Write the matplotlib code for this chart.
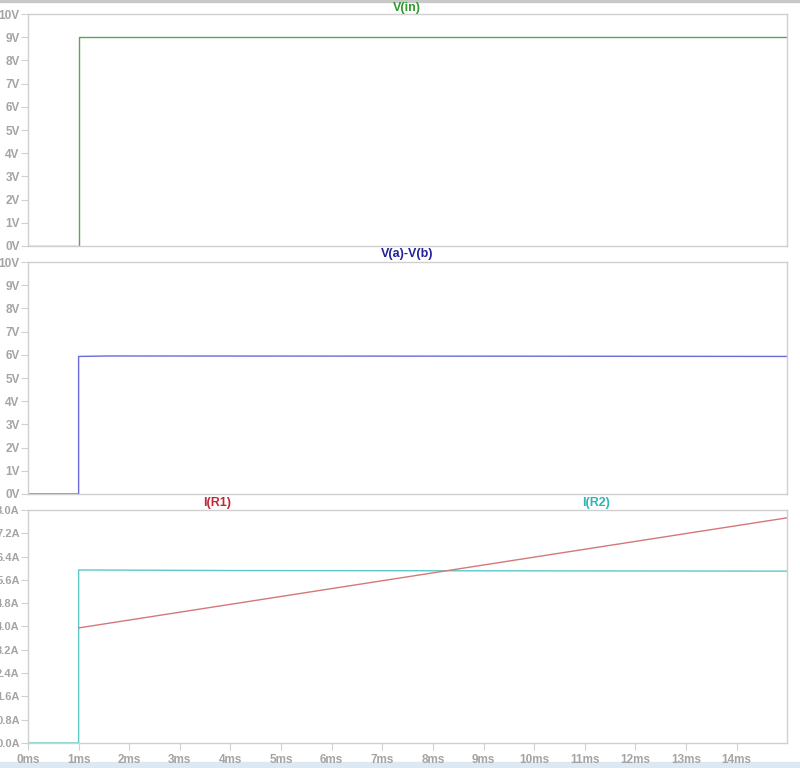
import numpy as np
import matplotlib
matplotlib.use('Agg')
import matplotlib.pyplot as plt
from matplotlib.patches import Rectangle

plt.rcParams['font.family'] = ['Liberation Sans', 'DejaVu Sans']

# --- data (time in ms) ---
t_vin = [0, 1, 1, 15]
v_in = [0, 0, 9, 9]

t_vab = [0, 1, 1, 1.6, 10.0, 15]
v_ab = [0, 0, 5.93, 5.95, 5.94, 5.93]

t_r2 = [0, 1, 1, 4.0, 15]
i_r2 = [0, 0, 5.94, 5.92, 5.90]

t_r1 = [1, 15]
i_r1 = [3.95, 7.73]

ms_ticks = list(range(0, 15))
volt_ticks = list(range(0, 11))
amp_ticks = [0.0, 0.8, 1.6, 2.4, 3.2, 4.0, 4.8, 5.6, 6.4, 7.2, 8.0]

tick_col = '#a4a4a4'
spine_col = '#d0d0d0'

fig = plt.figure(figsize=(8, 7.68), dpi=100)
left, width = 0.035, 0.949
ax1 = fig.add_axes([left, 0.6797, width, 0.302])
ax2 = fig.add_axes([left, 0.3568, width, 0.302])
ax3 = fig.add_axes([left, 0.0326, width, 0.3034])


def style(ax, yticks, ylabels, show_x, ysize):
    ax.set_xlim(0, 15)
    ax.set_ylim(yticks[0], yticks[-1])
    ax.set_yticks(yticks)
    ax.set_yticklabels(ylabels)
    for s in ax.spines.values():
        s.set_color(spine_col)
        s.set_linewidth(1.0)
    ax.tick_params(axis='y', colors=spine_col, labelcolor=tick_col,
                   length=5, width=0.8, pad=1, labelsize=ysize)
    if show_x:
        ax.set_xticks(ms_ticks)
        ax.set_xticklabels([f'{m}ms' for m in ms_ticks])
        ax.tick_params(axis='x', colors=spine_col, labelcolor=tick_col,
                       length=5, width=0.8, pad=3, labelsize=8.5)
    else:
        ax.set_xticks([])
    for lab in ax.get_yticklabels() + ax.get_xticklabels():
        lab.set_fontweight('bold')


# V(in)
ax1.plot(t_vin, v_in, color='#5aa55a', linewidth=1.0)
style(ax1, volt_ticks, [f'{v}V' for v in volt_ticks], False, 8.5)
fig.text(0.509, 0.990, 'V(in)', color='#2e9a2e', fontsize=9,
         fontweight='bold', ha='center', va='center')

# V(a)-V(b)
ax2.plot(t_vab, v_ab, color='#6a6ad8', linewidth=1.0)
style(ax2, volt_ticks, [f'{v}V' for v in volt_ticks], False, 8.5)
fig.text(0.509, 0.669, 'V(a)-V(b)', color='#22229a', fontsize=9,
         fontweight='bold', ha='center', va='center')

# I(R1), I(R2)
ax3.plot(t_r2, i_r2, color='#5cc8c8', linewidth=1.0)
ax3.plot(t_r1, i_r1, color='#d47878', linewidth=1.0)
style(ax3, amp_ticks, [f'{a:.1f}A' for a in amp_ticks], True, 8)
fig.text(0.271, 0.345, 'I(R1)', color='#c02838', fontsize=9,
         fontweight='bold', ha='center', va='center')
fig.text(0.745, 0.345, 'I(R2)', color='#30b4b4', fontsize=9,
         fontweight='bold', ha='center', va='center')

# frame bits
fig.add_artist(Rectangle((0, 0.997), 1, 0.003, transform=fig.transFigure,
                         color='#c8c8c8', zorder=0))
fig.add_artist(Rectangle((0, 0), 1, 0.008, transform=fig.transFigure,
                         color='#dce8f2', zorder=0))

fig.savefig('out.png', dpi=100)
